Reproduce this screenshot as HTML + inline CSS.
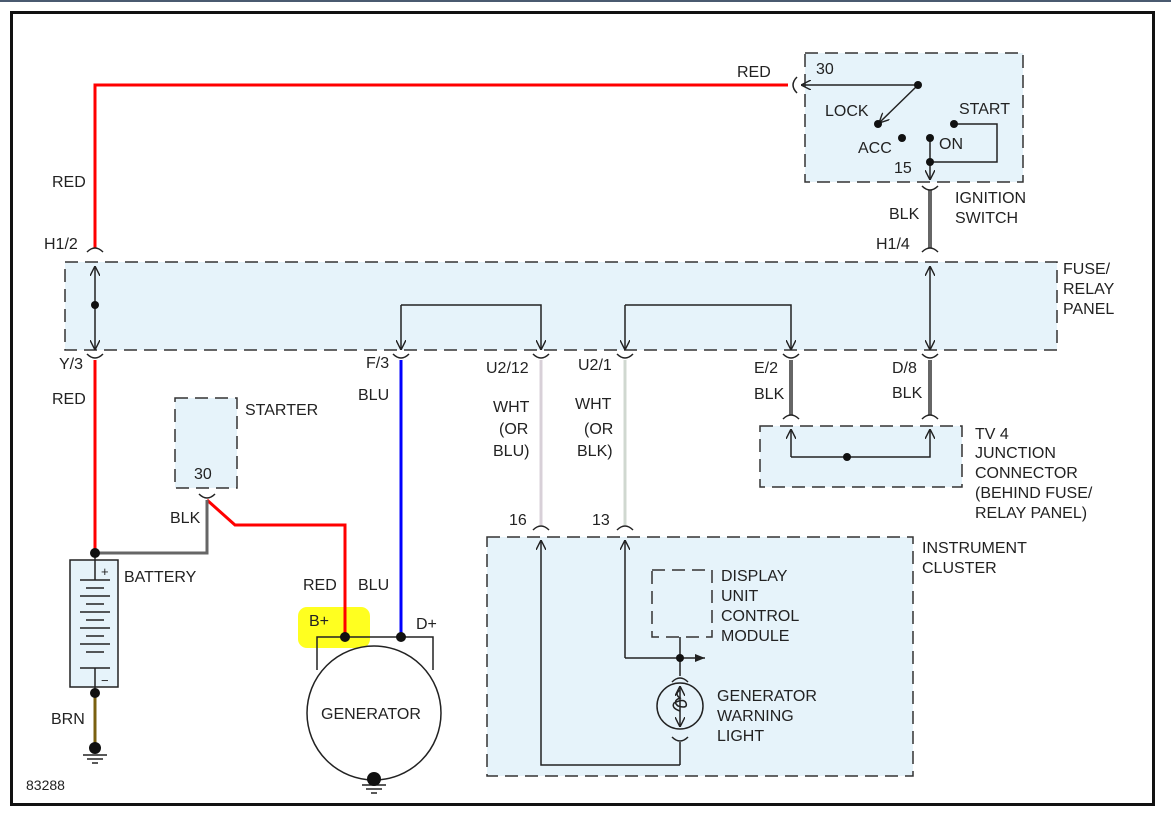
<!DOCTYPE html>
<html><head><meta charset="utf-8"><style>
html,body{margin:0;padding:0;background:#fff}
svg{display:block}
text{font-family:"Liberation Sans",Arial,sans-serif;font-size:16px;fill:#222}
</style></head><body>
<svg width="1171" height="822" viewBox="0 0 1171 822" xmlns="http://www.w3.org/2000/svg">
<defs>
<marker id="ah" viewBox="0 0 10 10" refX="10" refY="5" markerWidth="10" markerHeight="10" markerUnits="userSpaceOnUse" orient="auto"><path d="M0,0 L10,5 L0,10" fill="none" stroke="#222" stroke-width="1.4"/></marker>
<marker id="af" viewBox="0 0 10 10" refX="10" refY="5" markerWidth="10" markerHeight="10" markerUnits="userSpaceOnUse" orient="auto"><path d="M0,1 L10,5 L0,9 Z" fill="#222"/></marker>
</defs>
<rect x="0" y="0" width="1171" height="2" fill="#4a5a70"/>
<rect x="11.5" y="12.5" width="1142" height="792" fill="none" stroke="#111" stroke-width="3"/>
<g fill="#e6f3fa" stroke="#333" stroke-width="1.5" stroke-dasharray="13,7">
<rect x="805" y="53" width="218" height="129"/>
<rect x="65" y="262" width="992" height="88"/>
<rect x="175" y="398" width="62" height="90"/>
<rect x="760" y="426" width="202" height="61"/>
<rect x="487" y="537" width="426" height="239"/>
<rect x="652" y="570" width="60" height="67"/>
</g>
<rect x="298" y="607" width="72" height="41" rx="9" fill="#ffff20"/>
<g fill="none" stroke-width="3">
<polyline points="95,248 95,85 788,85" stroke="#f00"/>
<line x1="95" y1="360" x2="95" y2="553" stroke="#f00"/>
<polyline points="207,500 235,525 345,525 345,637" stroke="#f00"/>
<polyline points="95,553 207,553 207,500" stroke="#666"/>
<line x1="401" y1="360" x2="401" y2="637" stroke="#00f"/>
<line x1="541" y1="360" x2="541" y2="525" stroke="#d8d0d8"/>
<line x1="625" y1="360" x2="625" y2="525" stroke="#d0d8d0"/>
<line x1="791" y1="360" x2="791" y2="415" stroke="#666" stroke-width="4"/>
<line x1="930" y1="360" x2="930" y2="415" stroke="#666" stroke-width="4"/>
<line x1="930" y1="190" x2="930" y2="248" stroke="#666" stroke-width="4"/>
<line x1="95" y1="693" x2="95" y2="745" stroke="#7a6010"/>
</g>
<g fill="none" stroke="#222" stroke-width="1.5">
<path d="M87,252 Q95,244 103,252"/><path d="M87,354 Q95,362 103,354"/>
<path d="M393,354 Q401,362 409,354"/><path d="M533,354 Q541,362 549,354"/>
<path d="M617,354 Q625,362 633,354"/><path d="M783,354 Q791,362 799,354"/>
<path d="M922,354 Q930,362 938,354"/><path d="M922,252 Q930,244 938,252"/>
<path d="M922,186 Q930,194 938,186"/><path d="M783,419 Q791,411 799,419"/>
<path d="M922,419 Q930,411 938,419"/><path d="M199,494 Q207,502 215,494"/>
<path d="M533,530 Q541,522 549,530"/><path d="M617,530 Q625,522 633,530"/>
<path d="M797,77 Q789,85 797,93"/>
<path d="M672,682 Q680,674 688,682"/><path d="M672,737 Q680,745 688,737"/>
</g>
<g fill="none" stroke="#222" stroke-width="1.5">
<line x1="95" y1="305" x2="95" y2="266" marker-end="url(#ah)"/>
<line x1="95" y1="305" x2="95" y2="350" marker-end="url(#ah)"/>
<line x1="930" y1="300" x2="930" y2="266" marker-end="url(#ah)"/>
<line x1="930" y1="300" x2="930" y2="350" marker-end="url(#ah)"/>
<polyline points="401,305 401,350" marker-end="url(#ah)"/>
<polyline points="401,305 541,305 541,350" marker-end="url(#ah)"/>
<polyline points="625,305 625,350" marker-end="url(#ah)"/>
<polyline points="625,305 791,305 791,350" marker-end="url(#ah)"/>
<polyline points="791,457 791,429" marker-end="url(#ah)"/>
<polyline points="791,457 930,457 930,429" marker-end="url(#ah)"/>
<polyline points="918,85 801,85" marker-end="url(#ah)"/>
<polyline points="918,85 879,123" marker-end="url(#ah)"/>
<polyline points="954,124 997,124 997,162 930,162"/>
<polyline points="930,138 930,180" marker-end="url(#ah)"/>
<polyline points="680,765 541,765 541,540" marker-end="url(#ah)"/>
<polyline points="680,765 680,742"/>
<polyline points="625,658 625,540" marker-end="url(#ah)"/>
<polyline points="625,658 680,658 680,637"/>
<line x1="680" y1="658" x2="705" y2="658" marker-end="url(#af)"/>
<line x1="680" y1="658" x2="680" y2="676"/>
<circle cx="680" cy="706" r="23"/>
<line x1="680" y1="706" x2="680" y2="686" marker-end="url(#ah)"/>
<line x1="680" y1="706" x2="680" y2="727" marker-end="url(#ah)"/>
<path d="M680,690 q-6,4 0,8 q-8,3 -2,8 q10,3 8,-3 q-2,-5 -12,0 q-3,5 6,8"/>
<circle cx="374" cy="713" r="67" fill="#fff"/>
<polyline points="317,670 317,637 433,637 433,670"/>
<rect x="70" y="560" width="48" height="127" fill="#e6f3fa"/>
<line x1="95" y1="553" x2="95" y2="580"/><line x1="95" y1="668" x2="95" y2="693"/>
<line x1="80" y1="580" x2="110" y2="580"/><line x1="86" y1="588" x2="104" y2="588"/>
<line x1="80" y1="596" x2="110" y2="596"/><line x1="86" y1="604" x2="104" y2="604"/>
<line x1="80" y1="612" x2="110" y2="612"/><line x1="86" y1="620" x2="104" y2="620"/>
<line x1="80" y1="628" x2="110" y2="628"/><line x1="86" y1="636" x2="104" y2="636"/>
<line x1="80" y1="644" x2="110" y2="644"/><line x1="86" y1="652" x2="104" y2="652"/>
<line x1="80" y1="668" x2="110" y2="668"/>
<line x1="83" y1="755" x2="107" y2="755"/><line x1="87" y1="759" x2="103" y2="759"/><line x1="92" y1="763" x2="98" y2="763"/>
<line x1="362" y1="785" x2="386" y2="785"/><line x1="366" y1="789" x2="382" y2="789"/><line x1="371" y1="793" x2="377" y2="793"/>
</g>
<g fill="#111">
<circle cx="95" cy="305" r="4"/><circle cx="918" cy="85" r="4"/><circle cx="878" cy="124" r="4"/>
<circle cx="902" cy="138" r="4"/><circle cx="930" cy="138" r="4"/><circle cx="954" cy="124" r="4"/>
<circle cx="930" cy="162" r="4"/><circle cx="847" cy="457" r="4"/><circle cx="680" cy="658" r="4"/>
<circle cx="95" cy="553" r="5"/><circle cx="95" cy="693" r="5"/><circle cx="95" cy="748" r="6"/>
<circle cx="345" cy="637" r="5"/><circle cx="401" cy="637" r="5"/><circle cx="374" cy="779" r="7"/>
</g>
<text x="737" y="77">RED</text><text x="816" y="74">30</text>
<text x="825" y="116">LOCK</text><text x="959" y="114">START</text>
<text x="858" y="153">ACC</text><text x="939" y="149">ON</text><text x="894" y="173">15</text>
<text x="955" y="203">IGNITION</text><text x="955" y="223">SWITCH</text>
<text x="889" y="219">BLK</text><text x="876" y="249">H1/4</text>
<text x="52" y="187">RED</text><text x="44" y="249">H1/2</text>
<text x="1063" y="274">FUSE/</text><text x="1063" y="294">RELAY</text><text x="1063" y="314">PANEL</text>
<text x="59" y="369">Y/3</text><text x="52" y="404">RED</text>
<text x="366" y="368">F/3</text><text x="358" y="400">BLU</text>
<text x="486" y="373">U2/12</text><text x="578" y="370">U2/1</text>
<text x="493" y="412">WHT</text><text x="499" y="434">(OR</text><text x="493" y="456">BLU)</text>
<text x="575" y="409">WHT</text><text x="584" y="434">(OR</text><text x="577" y="456">BLK)</text>
<text x="754" y="373">E/2</text><text x="754" y="399">BLK</text>
<text x="892" y="373">D/8</text><text x="892" y="398">BLK</text>
<text x="975" y="439">TV 4</text><text x="975" y="458">JUNCTION</text><text x="975" y="478">CONNECTOR</text>
<text x="975" y="498">(BEHIND FUSE/</text><text x="975" y="518">RELAY PANEL)</text>
<text x="245" y="415">STARTER</text><text x="194" y="479">30</text>
<text x="170" y="523">BLK</text><text x="124" y="582">BATTERY</text>
<text x="101" y="576" style="font-size:13px">+</text><text x="101" y="685" style="font-size:13px">−</text>
<text x="51" y="724">BRN</text><text x="26" y="790" style="font-size:14px">83288</text>
<text x="303" y="590">RED</text><text x="358" y="590">BLU</text>
<text x="309" y="626">B+</text><text x="416" y="629">D+</text>
<text x="321" y="719">GENERATOR</text>
<text x="509" y="525">16</text><text x="592" y="525">13</text>
<text x="922" y="553">INSTRUMENT</text><text x="922" y="573">CLUSTER</text>
<text x="721" y="581">DISPLAY</text><text x="721" y="601">UNIT</text><text x="721" y="621">CONTROL</text><text x="721" y="641">MODULE</text>
<text x="717" y="701">GENERATOR</text><text x="717" y="721">WARNING</text><text x="717" y="741">LIGHT</text>
</svg>
</body></html>
